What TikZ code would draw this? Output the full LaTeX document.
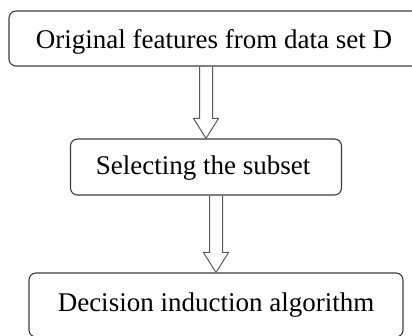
\documentclass[tikz,border=0pt]{standalone}
\usepackage{fontspec}
\setmainfont{Liberation Serif}
\usetikzlibrary{calc}
\definecolor{boxline}{HTML}{3C3C3C}
\definecolor{arrline}{HTML}{5A5A5A}
\tikzset{
  stagebox/.style={draw=boxline, line width=1.1pt, rounded corners=7pt,
    inner sep=0pt, fill=white},
  stagetext/.style={anchor=base, inner sep=0pt, text=black,
    font=\fontsize{27}{32}\selectfont},
  hollow/.style={draw=arrline, line width=1pt, line join=miter}
}
% hollow block arrow from the lower edge of one box to the top of the next
\newcommand\hollowarrow[2]{%
  \draw[hollow] let \p1=(#1), \p2=(#2) in
    (\x2-6.5pt,\y1) -- (\x2-6.5pt,\y2+20pt) -- (\x2-12.5pt,\y2+20pt)
    -- (\x2,\y2) -- (\x2+12.5pt,\y2+20pt) -- (\x2+6.5pt,\y2+20pt)
    -- (\x2+6.5pt,\y1);}
\begin{document}
\begin{tikzpicture}[x=1pt,y=-1pt]
  \useasboundingbox (0,0) rectangle (412,336);
  \clip (0,0) rectangle (412,336);
  \fill[white] (0,0) rectangle (412,336);

  % boxes
  \node[stagebox, minimum width=410pt, minimum height=55pt] (b1) at (214,38.5) {};
  \node[stagebox, minimum width=271pt, minimum height=56pt] (b2) at (206,167) {};
  \node[stagebox, minimum width=374pt, minimum height=64pt] (b3) at (216,305) {};

  % labels
  \node[stagetext] (t1) at (214,49) {Original features from data set D};
  \node[stagetext] (t2) at (203,175) {Selecting the subset};
  \node[stagetext] (t3) at (216,312) {Decision induction algorithm};

  % connectors
  \hollowarrow{b1.south}{b2.north}
  \hollowarrow{b2.south}{b3.north}
\end{tikzpicture}
\end{document}
